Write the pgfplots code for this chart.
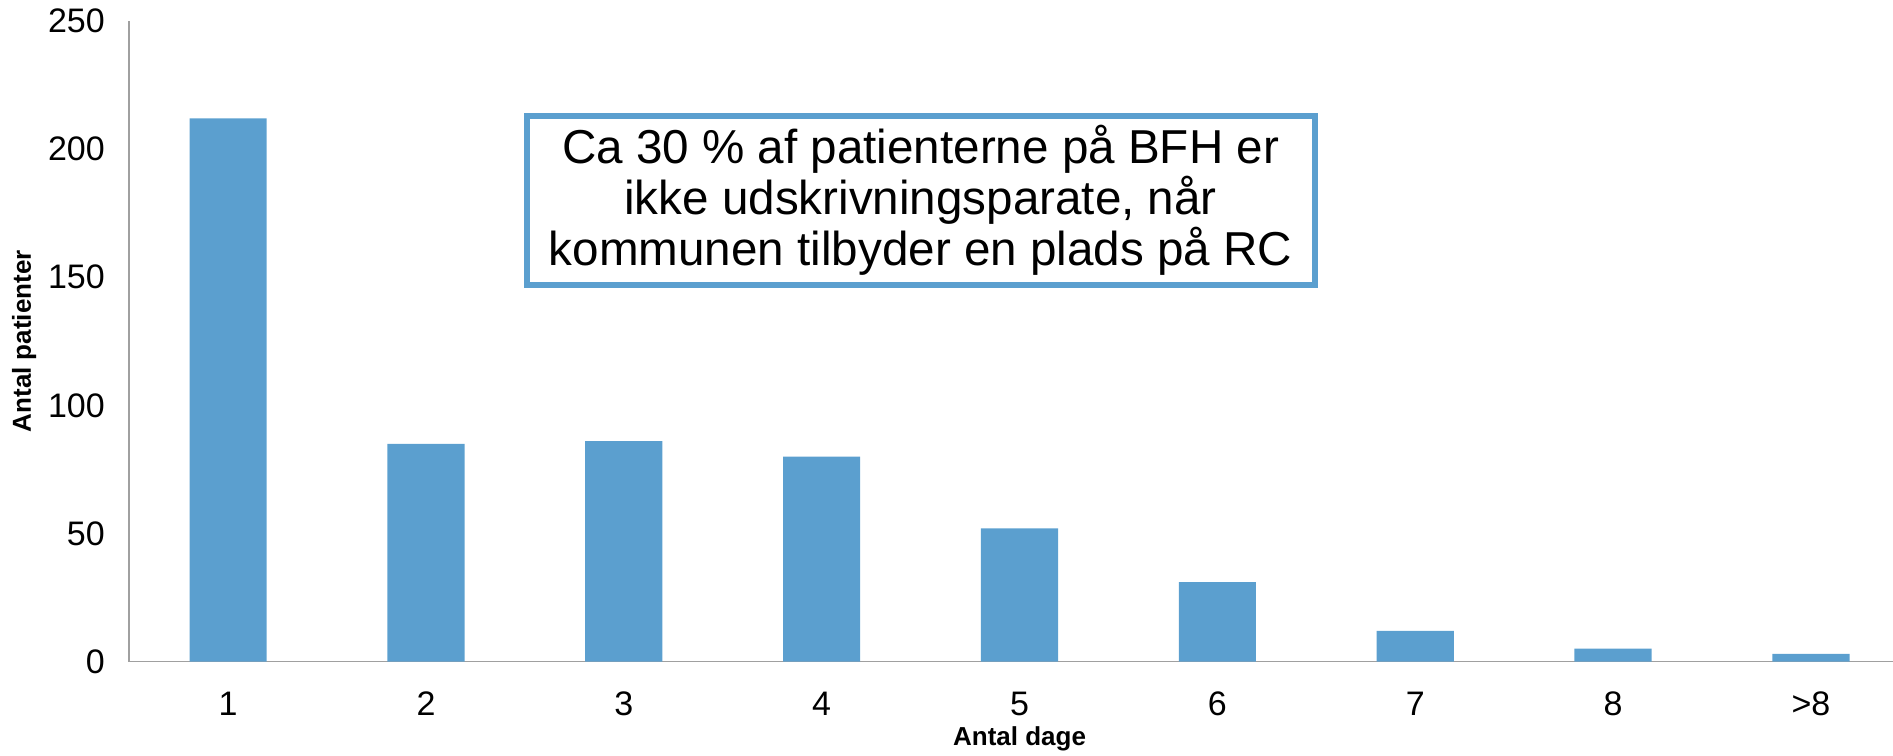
\documentclass[border=0pt]{standalone}
\usepackage{fontspec}
\setmainfont{Liberation Sans}
\usepackage{pgfplots}
\pgfplotsset{compat=1.18}
\definecolor{barblue}{HTML}{5B9FCF}
\definecolor{axisgray}{HTML}{A0A0A0}
\begin{document}
\begin{tikzpicture}
\begin{axis}[
  scale only axis, width=882pt, height=320.3pt,
  xmin=-0.5, xmax=8.415, ymin=0, ymax=250,
  axis x line*=bottom, axis y line*=left,
  axis line style={draw=axisgray, line width=0.75pt, -},
  ytick={0,50,...,250},
  xtick={0,...,8}, xticklabels={1,2,3,4,5,6,7,8,{>8}},
  major tick length=0pt,
  /pgf/number format/assume math mode=true,
  ticklabel style={font=\fontsize{17}{20}\selectfont},
  yticklabel style={inner sep=0pt, anchor=east, xshift=-12pt},
  xticklabel style={inner sep=0pt, anchor=north, yshift=-15pt},
  xlabel={Antal dage}, ylabel={Antal patienter},
  label style={font=\fontsize{13}{15}\selectfont\bfseries},
  xlabel style={at={(axis description cs:0.5048,-0.1203)}, anchor=center},
  ylabel style={at={(axis description cs:-0.0595,0.5)}, anchor=center},
  ybar, bar width=0.39,
]
\addplot[fill=barblue, draw=none] coordinates {(0,212) (1,85) (2,86) (3,80) (4,52) (5,31) (6,12) (7,5) (8,3)};
\node[draw=barblue, line width=3pt, fill=white, align=center, minimum width=394pt, minimum height=84.5pt, inner sep=0pt, font=\fontsize{23.8}{25.7}\selectfont] at (axis cs:3.5,180) {Ca 30 \% af patienterne på BFH er\\ikke udskrivningsparate, når\\kommunen tilbyder en plads på RC};
\end{axis}
\pgfresetboundingbox
\path (-64.6pt,-47.2pt) rectangle (882pt,330.8pt);
\end{tikzpicture}
\end{document}
